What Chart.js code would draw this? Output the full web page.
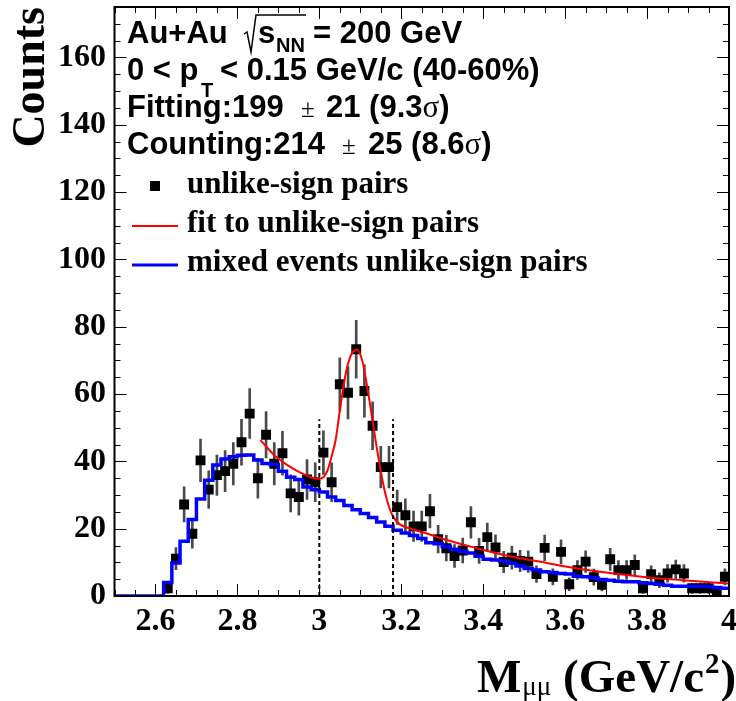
<!DOCTYPE html>
<html>
<head>
<meta charset="utf-8">
<title>Dimuon invariant mass, Au+Au 200 GeV</title>
<script src="https://cdn.jsdelivr.net/npm/chart.js@4.4.1/dist/chart.umd.min.js"></script>
<style>
  html, body { margin: 0; padding: 0; background: #ffffff; }
  #wrap { width: 736px; height: 701px; }
</style>
</head>
<body>
<div id="wrap"><canvas id="massChart" width="736" height="701"></canvas></div>
<script>
// Unlike-sign dimuon pairs: bin centres (GeV/c^2), counts and statistical errors
const massBins = [
  2.63, 2.65, 2.67, 2.69, 2.71, 2.73, 2.75, 2.77, 2.79, 2.81,
  2.83, 2.85, 2.87, 2.89, 2.91, 2.93, 2.95, 2.97, 2.99, 3.01,
  3.03, 3.05, 3.07, 3.09, 3.11, 3.13, 3.15, 3.17, 3.19, 3.21,
  3.23, 3.25, 3.27, 3.29, 3.31, 3.33, 3.35, 3.37, 3.39, 3.41,
  3.43, 3.45, 3.47, 3.49, 3.51, 3.53, 3.55, 3.57, 3.59, 3.61,
  3.63, 3.65, 3.67, 3.69, 3.71, 3.73, 3.75, 3.77, 3.79, 3.81,
  3.83, 3.85, 3.87, 3.89, 3.91, 3.93, 3.95, 3.97, 3.99
];
const unlikeCounts = [
  2.3, 11.1, 27.2, 18.5, 40.3, 31.6, 35.9, 37.1, 39.3, 45.7,
  54.2, 35.0, 47.9, 39.3, 42.4, 30.5, 29.4, 34.6, 33.8, 42.6,
  33.8, 62.9, 60.4, 73.3, 60.9, 50.6, 38.3, 38.3, 26.4, 24.0,
  20.7, 20.7, 25.2, 16.9, 14.2, 11.9, 13.5, 21.9, 13.4, 17.5,
  14.4, 10.1, 11.4, 10.4, 10.2, 6.5, 14.3, 5.7, 13.1, 3.5,
  7.7, 10.2, 5.6, 3.3, 10.9, 7.7, 7.7, 9.2, 2.3, 6.5,
  4.7, 6.7, 7.9, 6.7, 2.3, 2.3, 2.3, 1.1, 5.7
];
const unlikeErrors = [
  1.5, 3.3, 5.2, 4.3, 6.3, 5.6, 6.0, 6.1, 6.3, 6.8,
  7.4, 5.9, 6.9, 6.3, 6.5, 5.5, 5.4, 5.9, 5.8, 6.5,
  5.8, 7.9, 7.8, 8.6, 7.8, 7.1, 6.2, 6.2, 5.1, 4.9,
  4.5, 4.5, 5.0, 4.1, 3.8, 3.4, 3.7, 4.7, 3.7, 4.2,
  3.8, 3.2, 3.4, 3.2, 3.2, 2.5, 3.8, 2.4, 3.6, 1.9,
  2.8, 3.2, 2.4, 1.8, 3.3, 2.8, 2.8, 3.0, 1.5, 2.5,
  2.2, 2.6, 2.8, 2.6, 1.5, 1.5, 1.5, 1.0, 2.4
];

// Mixed-event unlike-sign histogram: bin edges and contents
const mixedEdges = [
  2.50, 2.52, 2.54, 2.56, 2.58, 2.60, 2.62, 2.64, 2.66, 2.68,
  2.70, 2.72, 2.74, 2.76, 2.78, 2.80, 2.82, 2.84, 2.86, 2.88,
  2.90, 2.92, 2.94, 2.96, 2.98, 3.00, 3.02, 3.04, 3.06, 3.08,
  3.10, 3.12, 3.14, 3.16, 3.18, 3.20, 3.22, 3.24, 3.26, 3.28,
  3.30, 3.32, 3.34, 3.36, 3.38, 3.40, 3.42, 3.44, 3.46, 3.48,
  3.50, 3.52, 3.54, 3.56, 3.58, 3.60, 3.62, 3.64, 3.66, 3.68,
  3.70, 3.72, 3.74, 3.76, 3.78, 3.80, 3.82, 3.84, 3.86, 3.88,
  3.90, 3.92, 3.94, 3.96, 3.98, 4.00
];
const mixedCounts = [
  0, 0, 0, 0, 0, 0, 4.0, 9.8, 16.3, 22.7,
  28.8, 34.4, 38.9, 40.7, 41.4, 41.8, 41.9, 40.4, 39.4, 39.1,
  37.1, 35.3, 34.6, 32.4, 31.6, 30.9, 29.4, 28.4, 26.9, 25.6,
  24.5, 23.3, 22.0, 20.7, 19.5, 18.7, 18.0, 17.1, 15.8, 15.5,
  14.7, 13.9, 13.3, 12.8, 11.8, 10.9, 10.7, 10.4, 9.7, 8.9,
  8.2, 7.7, 7.2, 7.0, 6.7, 6.5, 5.9, 5.7, 5.4, 4.9,
  4.7, 4.4, 4.2, 4.2, 3.9, 3.7, 3.5, 3.2, 2.9, 2.9,
  2.9, 2.8, 2.8, 2.5, 2.3
];

// Fit to the unlike-sign pairs (signal + background), sampled along the curve
const fitMass = [
  2.856, 2.895, 2.935, 2.955, 2.976, 2.996, 3.010, 3.020, 3.030, 3.040,
  3.050, 3.065, 3.080, 3.092, 3.105, 3.121, 3.137, 3.150, 3.160, 3.170,
  3.180, 3.194, 3.218, 3.259, 3.307, 3.372, 3.453, 3.534, 3.615, 3.700,
  3.805, 3.886, 4.000
];
const fitCounts = [
  46.3, 41.3, 37.9, 36.6, 35.4, 34.8, 35.3, 37.3, 41.5, 46.5,
  55.0, 66.5, 72.3, 73.2, 69.8, 59.0, 46.5, 37.0, 31.0, 26.5,
  23.6, 21.5, 20.2, 18.7, 16.8, 14.6, 12.1, 10.3, 8.5, 7.0,
  5.5, 4.7, 3.7
];

// Signal counting window
const windowEdges = [3.0, 3.18];
const windowHeight = 52.5;

// Axis labels
const xTickLabels = [2.6, 2.8, 3.0, 3.2, 3.4, 3.6, 3.8, 4.0];
const yTickLabels = [0, 20, 40, 60, 80, 100, 120, 140, 160];

const SERIF = '"Liberation Serif", "Times New Roman", serif';
const SANS = '"Liberation Sans", Arial, sans-serif';

// Frame, inward tick marks, header text, legend and x-axis title
const decorations = {
  id: 'decorations',
  afterDraw(chart) {
    const { ctx, chartArea: a, scales: { x, y } } = chart;
    const ds = chart.data.datasets;
    ctx.save();

    // inward tick marks on all four sides
    ctx.strokeStyle = '#000';
    ctx.lineWidth = 1;
    ctx.beginPath();
    for (let k = 0; k <= 35; k++) {
      const v = k * 5;
      const py = Math.round(y.getPixelForValue(v)) + 0.5;
      const len = (v % 20 === 0) ? 12 : 6;
      ctx.moveTo(a.left, py); ctx.lineTo(a.left + len, py);
      ctx.moveTo(a.right, py); ctx.lineTo(a.right - len, py);
    }
    for (let k = 0; k <= 30; k++) {
      const v = 2.5 + k * 0.05;
      const px = Math.round(x.getPixelForValue(v)) + 0.5;
      const major = Math.abs(v * 5 - Math.round(v * 5)) < 1e-6;
      const len = major ? 12 : 6;
      ctx.moveTo(px, a.bottom); ctx.lineTo(px, a.bottom - len);
      ctx.moveTo(px, a.top); ctx.lineTo(px, a.top + len);
    }
    ctx.stroke();

    // frame
    ctx.lineWidth = 2;
    ctx.strokeRect(a.left, a.top, a.right - a.left, a.bottom - a.top);

    // header text
    ctx.fillStyle = '#000';
    ctx.textBaseline = 'alphabetic';
    ctx.textAlign = 'left';
    const big = 'bold 31px ' + SANS;
    const sub = 'bold 20px ' + SANS;

    ctx.font = big;
    ctx.fillText('Au+Au', 127, 43);
    // square-root sign over s_NN
    ctx.lineWidth = 1.5;
    ctx.beginPath();
    ctx.moveTo(244, 34); ctx.lineTo(247, 32);
    ctx.lineTo(251, 52); ctx.lineTo(256, 15); ctx.lineTo(306, 15);
    ctx.stroke();
    ctx.fillText('s', 258, 43);
    ctx.font = sub;
    ctx.fillText('NN', 276, 52);
    ctx.font = big;
    ctx.fillText('= 200 GeV', 313, 43);

    ctx.fillText('0 < p', 127, 80);
    ctx.font = sub;
    ctx.fillText('T', 201, 97);
    ctx.font = big;
    ctx.fillText('< 0.15 GeV/c (40-60%)', 220, 80);

    const sigmaLine = (label, pm, rest, xPm, xRest, base) => {
      ctx.font = big;
      ctx.fillText(label, 127, base);
      ctx.font = '25px ' + SERIF;
      ctx.fillText(pm, xPm, base);
      ctx.font = big;
      ctx.fillText(rest, xRest, base);
      let xe = xRest + ctx.measureText(rest).width;
      ctx.font = '31px ' + SERIF;
      ctx.fillText('\u03C3', xe, base);
      xe += ctx.measureText('\u03C3').width;
      ctx.font = big;
      ctx.fillText(')', xe, base);
    };
    sigmaLine('Fitting:199', '\u00B1', '21 (9.3', 301, 326, 117);
    sigmaLine('Counting:214', '\u00B1', '25 (8.6', 342, 368, 154);

    // legend
    const lf = 'bold 31px ' + SERIF;
    ctx.font = lf;
    ctx.fillStyle = ds[2].pointBackgroundColor;
    ctx.fillRect(150, 181, 10, 10);
    ctx.fillStyle = '#000';
    ctx.fillText(ds[2].label, 187, 193);

    ctx.strokeStyle = ds[0].borderColor;
    ctx.lineWidth = 2;
    ctx.beginPath(); ctx.moveTo(132, 226); ctx.lineTo(178, 226); ctx.stroke();
    ctx.fillText(ds[0].label, 187, 232);

    ctx.strokeStyle = ds[1].borderColor;
    ctx.lineWidth = 3;
    ctx.beginPath(); ctx.moveTo(132, 265); ctx.lineTo(178, 265); ctx.stroke();
    ctx.fillText(ds[1].label, 187, 271);

    // x-axis title: M_{mu mu} (GeV/c^2)
    ctx.fillStyle = '#000';
    let tx = 477;
    const tb = 692;
    ctx.font = 'bold 47px ' + SERIF;
    ctx.fillText('M', tx, tb);
    tx += ctx.measureText('M').width + 1;
    ctx.font = '27px ' + SERIF;
    ctx.fillText('\u03BC\u03BC', tx, tb + 3);
    tx += ctx.measureText('\u03BC\u03BC').width;
    ctx.font = 'bold 47px ' + SERIF;
    ctx.fillText(' (GeV/c', tx, tb);
    tx += ctx.measureText(' (GeV/c').width;
    ctx.font = 'bold 29px ' + SERIF;
    ctx.fillText('2', tx + 1, tb - 19);
    tx += ctx.measureText('2').width + 2;
    ctx.font = 'bold 47px ' + SERIF;
    ctx.fillText(')', tx, tb);

    ctx.restore();
  }
};

const ctx = document.getElementById('massChart').getContext('2d');
new Chart(ctx, {
  type: 'line',
  data: {
    datasets: [
      {
        label: 'fit to unlike-sign pairs',
        data: fitMass.map((m, i) => ({ x: m, y: fitCounts[i] })),
        borderColor: '#ff0000',
        borderWidth: 2,
        pointRadius: 0,
        cubicInterpolationMode: 'monotone',
        fill: false,
        order: 1
      },
      {
        label: 'mixed events unlike-sign pairs',
        data: mixedEdges.map((e, i) => ({ x: e, y: mixedCounts[Math.min(i, mixedCounts.length - 1)] })),
        borderColor: '#0000ff',
        borderWidth: 3.5,
        pointRadius: 0,
        stepped: true,
        fill: false,
        order: 2
      },
      {
        label: 'unlike-sign pairs',
        data: massBins.map((m, i) => ({ x: m, y: unlikeCounts[i] })),
        showLine: false,
        pointStyle: 'rect',
        pointRadius: 7,
        pointBorderWidth: 0,
        pointBackgroundColor: '#000000',
        pointBorderColor: '#000000',
        order: 3
      },
      {
        type: 'bar',
        label: 'statistical errors',
        data: massBins.map((m, i) => ({ x: m, y: [unlikeCounts[i] - unlikeErrors[i], unlikeCounts[i] + unlikeErrors[i]] })),
        backgroundColor: '#4a4a4a',
        borderWidth: 0,
        barThickness: 2,
        grouped: false,
        order: 4
      },
      {
        label: 'window low',
        data: [{ x: windowEdges[0], y: 0 }, { x: windowEdges[0], y: windowHeight }],
        borderColor: '#000000',
        borderWidth: 2,
        borderDash: [4, 3],
        pointRadius: 0,
        order: 0
      },
      {
        label: 'window high',
        data: [{ x: windowEdges[1], y: 0 }, { x: windowEdges[1], y: windowHeight }],
        borderColor: '#000000',
        borderWidth: 2,
        borderDash: [4, 3],
        pointRadius: 0,
        order: 0
      }
    ]
  },
  options: {
    responsive: false,
    animation: false,
    events: [],
    layout: { padding: { left: 0, right: 5, top: 3, bottom: 0 } },
    plugins: { legend: { display: false }, tooltip: { enabled: false } },
    scales: {
      x: {
        type: 'linear',
        min: 2.5,
        max: 4.0,
        offset: false,
        grid: { display: false, drawTicks: false },
        border: { display: false },
        ticks: {
          color: '#000',
          font: { family: SERIF, size: 32, weight: 'bold' },
          padding: 7,
          maxRotation: 0,
          autoSkip: false,
          callback: (v) => String(Math.round(v * 10) / 10)
        },
        afterBuildTicks: (s) => { s.ticks = xTickLabels.map(v => ({ value: v })); },
        afterFit: (s) => { s.height = 105; s.paddingLeft = 0; s.paddingRight = 0; }
      },
      y: {
        type: 'linear',
        min: 0,
        max: 175,
        grid: { display: false, drawTicks: false },
        border: { display: false },
        ticks: {
          color: '#000',
          font: { family: SERIF, size: 32, weight: 'bold' },
          padding: 8.5,
          autoSkip: false
        },
        title: {
          display: true,
          text: 'Counts',
          align: 'end',
          color: '#000',
          font: { family: SERIF, size: 46, weight: 'bold' },
          padding: { top: 5, bottom: 0 }
        },
        afterBuildTicks: (s) => { s.ticks = yTickLabels.map(v => ({ value: v })); },
        afterFit: (s) => { s.width = 114.5; s.paddingTop = 0; s.paddingBottom = 0; }
      }
    }
  },
  plugins: [decorations]
});
</script>
</body>
</html>
